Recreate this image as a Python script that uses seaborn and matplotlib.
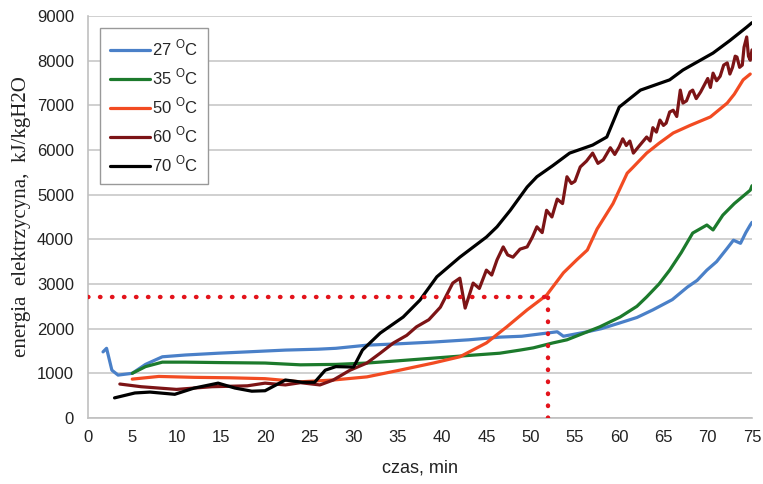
import numpy as np
import pandas as pd
import matplotlib
matplotlib.use('Agg')
import matplotlib.pyplot as plt
import seaborn as sns

sns.set_style('white')
plt.rcParams['font.family'] = ['Liberation Sans Narrow', 'Liberation Sans', 'DejaVu Sans']

# odczyty z wykresu: czas [min], energia [kJ/kgH2O]
t27 = [1.7, 2.1, 2.7, 3.4, 5, 6.5, 8.4, 11, 14.7, 18, 22.3, 26, 28, 31.5, 35, 39, 43, 46.5, 49, 51.8, 53, 53.7, 56.4,
       58, 60.1, 62, 63.8, 66, 67.7, 68.8, 69.9, 71, 72.2, 72.9, 73.7, 74.3, 74.8, 75]
e27 = [1480, 1560, 1070, 960, 1000, 1200, 1370, 1410, 1450, 1480, 1520, 1540, 1560, 1630, 1660, 1700, 1750, 1810, 1830, 1900, 1930, 1830, 1930,
       2000, 2130, 2250, 2420, 2650, 2930, 3080, 3310, 3500, 3800, 3980, 3910, 4150, 4320, 4380]

t35 = [5, 6.5, 8.4, 11, 15, 20, 24, 28, 31.5, 35, 39, 43, 46.5, 48.8, 50.3, 52.5, 54.1, 56.4, 57.8, 60.1, 62, 63.1,
       64.5, 65.7, 67, 68.3, 69.9, 70.6, 71.7, 73, 74.8, 75]
e35 = [1000, 1150, 1250, 1250, 1240, 1230, 1190, 1200, 1230, 1280, 1340, 1400, 1450, 1520, 1570, 1680, 1750, 1930, 2040, 2260, 2500, 2710,
       3000, 3310, 3700, 4140, 4320, 4210, 4540, 4800, 5100, 5200]

t50 = [5, 8, 12, 16, 20, 24, 27.7, 31.5, 35.2, 39, 42, 45, 47.3, 49.6, 51.8, 53.7, 55.2, 56.4, 57.5, 59.3, 60.9,
       61.5, 63.1, 64.5, 66.1, 68, 70.3, 72.2, 73, 74, 74.8]
e50 = [870, 930, 910, 900, 880, 810, 850, 920, 1070, 1230, 1370, 1680, 2040, 2420, 2750, 3250, 3540, 3760, 4230, 4800, 5480,
       5600, 5930, 6150, 6380, 6550, 6740, 7050, 7250, 7570, 7700]

t60 = [3.6, 6, 10, 14, 18, 20, 22.3, 24, 26.2, 27.7, 29.6, 31.5, 33, 34.5, 36, 37.1, 38.5, 39.8, 41.2, 42, 42.6, 43.5,
       44.2, 45, 45.6, 46.2, 46.9, 47.4, 48, 48.8, 49.6, 50.2, 50.7, 51.3, 51.8, 52.4, 53, 53.6, 54.1, 54.6, 55, 55.6,
       56.3, 57, 57.6, 58.2, 59, 59.5, 60, 60.4, 60.8, 61.2, 61.6, 62.3, 63.1, 63.5, 63.8, 64.2, 64.6, 65, 65.3, 65.7,
       66.1, 66.5, 66.9, 67.2, 67.6, 68, 68.3, 68.7, 69.2, 69.6, 70, 70.3, 70.6, 71, 71.4, 71.8, 72.2, 72.5, 72.8,
       73.1, 73.3, 73.6, 73.9, 74.1, 74.4, 74.6, 74.8, 75]
e60 = [760, 700, 640, 700, 720, 780, 740, 790, 740, 850, 1070, 1230, 1450, 1680, 1850, 2040, 2200, 2480, 3020, 3130, 2460, 3020,
       2900, 3310, 3200, 3540, 3830, 3650, 3600, 3780, 3830, 4050, 4280, 4150, 4650, 4500, 4900, 4800, 5400, 5250, 5300, 5620,
       5750, 5930, 5700, 5780, 6050, 5900, 6070, 6250, 6100, 6200, 5930, 6100, 6290, 6200, 6500, 6400, 6670, 6550, 6600, 6850,
       6890, 6750, 7340, 7050, 7100, 7300, 7340, 7150, 7300, 7450, 7600, 7400, 7720, 7550, 7650, 7900, 7950, 7700, 7850,
       8100, 8080, 7850, 7900, 8300, 8530, 8100, 8010, 8240]

t70 = [3, 5.3, 7, 9.8, 12, 14.7, 16.6, 18.5, 20, 22.3, 24.2, 25.6, 26.8, 28, 30, 31, 33, 35.6, 37.5, 39.4, 42, 45,
       46.2, 47.7, 49.6, 50.7, 52.5, 54.4, 57, 58.6, 60, 62.4, 65.7, 67.2, 70.6, 72.5, 74.4, 75]
e70 = [450, 560, 580, 530, 670, 780, 670, 600, 610, 850, 800, 800, 1070, 1150, 1140, 1520, 1900, 2260, 2640, 3160, 3600, 4050,
       4280, 4650, 5170, 5400, 5650, 5930, 6110, 6290, 6960, 7340, 7570, 7790, 8170, 8450, 8750, 8850]

labels = ['27 $^{\\mathregular{O}}$C', '35 $^{\\mathregular{O}}$C', '50 $^{\\mathregular{O}}$C',
          '60 $^{\\mathregular{O}}$C', '70 $^{\\mathregular{O}}$C']
colors = ['#4a80c8', '#1c7a2c', '#f24b22', '#7c1416', '#000000']

ref_t = 52
ref_e = 2700

series = [(t27, e27), (t35, e35), (t50, e50), (t60, e60), (t70, e70)]
df = pd.concat([pd.DataFrame({'czas': t, 'energia': e, 'temp': lab})
                for (t, e), lab in zip(series, labels)], ignore_index=True)

fig = plt.figure(figsize=(7.63, 4.84), dpi=100)
ax = fig.add_axes([0.1153, 0.1364, 0.8703, 0.8306])

sns.lineplot(data=df, x='czas', y='energia', hue='temp', palette=colors, hue_order=labels,
             sort=False, estimator=None, linewidth=2.3, ax=ax)

ax.plot([0, ref_t], [ref_e, ref_e], color='#e3141c', linestyle=(0, (0.1, 2.6)),
        linewidth=3.2, dash_capstyle='round', zorder=5)
ax.plot([ref_t, ref_t], [0, ref_e], color='#e3141c', linestyle=(0, (0.1, 2.6)),
        linewidth=3.2, dash_capstyle='round', zorder=5)

ax.set_xlim(0, 75)
ax.set_ylim(0, 9000)
ax.set_xticks(range(0, 76, 5))
ax.set_yticks(range(0, 9001, 1000))
ax.yaxis.grid(True, color='#c8c8c8', linewidth=1.2)
ax.xaxis.grid(False)
for s in ['top', 'right']:
    ax.spines[s].set_visible(False)
for s in ['left', 'bottom']:
    ax.spines[s].set_color('#c0c0c0')
    ax.spines[s].set_linewidth(1.2)
ax.tick_params(axis='both', length=0, labelsize=12, colors='#222222')
ax.tick_params(axis='y', pad=10)
ax.tick_params(axis='x', pad=9)

ax.set_xlabel('czas, min', fontsize=13, color='#222222', labelpad=10)
ax.set_ylabel('energia  elektrzycyna,  kJ/kgH2O', fontsize=15, family='Liberation Serif',
              color='#222222', labelpad=4)

ax.legend(loc='upper left', bbox_to_anchor=(0.018, 0.97), borderaxespad=0, fontsize=12,
          frameon=True, fancybox=False, edgecolor='#999999', framealpha=1,
          labelspacing=0.5, handlelength=2.4, handletextpad=0.1, borderpad=0.6, title=None)

fig.savefig('out.png', dpi=100)
